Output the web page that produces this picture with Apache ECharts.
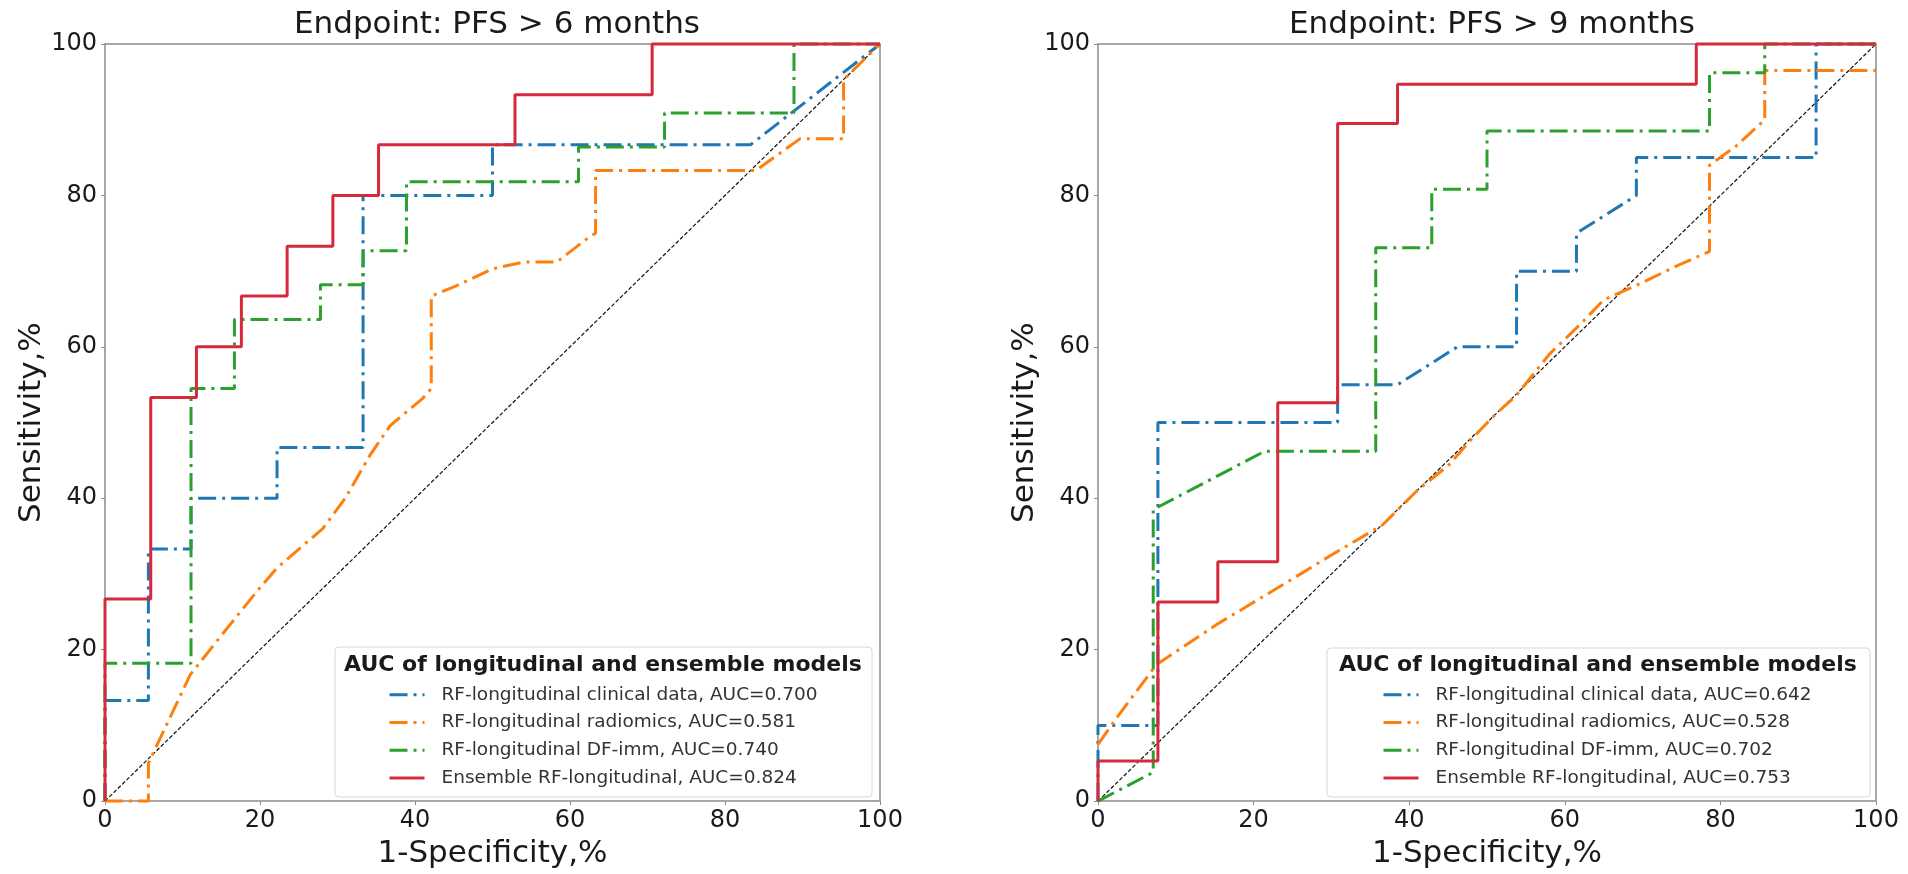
<!DOCTYPE html>
<html>
<head>
<meta charset="utf-8">
<title>ROC curves - longitudinal and ensemble models</title>
<script src="https://cdn.jsdelivr.net/npm/echarts@6/dist/echarts.min.js"></script>
<style>
  html, body { margin: 0; padding: 0; background: #fff; }
  #chart { width: 1908px; height: 874px; }
</style>
</head>
<body>
<div id="chart"></div>
<script>
// panel titles
const panelTitles = ["Endpoint: PFS > 6 months", "Endpoint: PFS > 9 months"];
const legendTitle = "AUC of longitudinal and ensemble models";

// model names, one list per panel (legend order)
const namesPfs6 = [
  "RF-longitudinal clinical data, AUC=0.700",
  "RF-longitudinal radiomics, AUC=0.581",
  "RF-longitudinal DF-imm, AUC=0.740",
  "Ensemble RF-longitudinal, AUC=0.824"
];
const namesPfs9 = [
  "RF-longitudinal clinical data, AUC=0.642",
  "RF-longitudinal radiomics, AUC=0.528",
  "RF-longitudinal DF-imm, AUC=0.702",
  "Ensemble RF-longitudinal, AUC=0.753"
];

// ROC points [1-specificity %, sensitivity %]
const pfs6Clinical = [[0,0],[0,13.3],[5.6,13.3],[5.6,33.3],[11.1,33.3],[11.1,40],[22.2,40],[22.2,46.7],
  [33.3,46.7],[33.3,80],[50,80],[50,86.7],[83.3,86.7],[100,100]];
const pfs6Radiomics = [[0,0],[5.6,0],[5.6,5],[11,16.7],[15.5,22.5],[19.6,27.7],[22.2,30.8],[28.1,36],
  [31,40],[34.2,45.7],[36.8,49.6],[41,53.2],[42.1,54.5],[42.1,66.7],[45.4,68.1],[50,70.3],[54,71.2],
  [58.3,71.2],[62.6,74.6],[63.3,75],[63.3,83.3],[84,83.3],[89.7,87.5],[95.3,87.5],[95.3,95.3],[100,100]];
const pfs6Dfimm = [[0,0],[0,18.2],[11.1,18.2],[11.1,54.5],[16.7,54.5],[16.7,63.6],[27.8,63.6],[27.8,68.2],
  [33.3,68.2],[33.3,72.7],[38.9,72.7],[38.9,81.8],[61.1,81.8],[61.1,86.4],[72.2,86.4],[72.2,90.9],
  [88.9,90.9],[88.9,100],[100,100]];
const pfs6Ensemble = [[0,0],[0,26.7],[5.9,26.7],[5.9,53.3],[11.8,53.3],[11.8,60],[17.6,60],[17.6,66.7],
  [23.5,66.7],[23.5,73.3],[29.4,73.3],[29.4,80],[35.3,80],[35.3,86.7],[52.9,86.7],[52.9,93.3],
  [70.6,93.3],[70.6,100],[100,100]];

const pfs9Clinical = [[0,0],[0,10],[7.7,10],[7.7,50],[30.8,50],[30.8,55],[38.5,55],[46.2,60],[53.8,60],
  [53.8,70],[61.5,70],[61.5,75],[69.2,80],[69.2,85],[92.3,85],[92.3,100],[100,100]];
const pfs9Radiomics = [[0,7.5],[2.4,11],[7.5,18],[15.2,23.3],[23.8,28.6],[30,32.5],[36.6,36.5],[41,41],
  [45.1,44.4],[48,47.8],[51,51],[53.7,53.5],[58,59],[62,63],[65,66.2],[70,68.5],[74,70.5],[78.6,72.6],
  [78.6,84],[82,86.5],[85.7,90],[85.7,96.5],[100,96.5]];
const pfs9Dfimm = [[0,0],[7.1,3.8],[7.1,38.5],[21.4,46.2],[35.7,46.2],[35.7,73.1],[42.9,73.1],[42.9,80.8],
  [50,80.8],[50,88.5],[78.6,88.5],[78.6,96.2],[85.7,96.2],[85.7,100],[100,100]];
const pfs9Ensemble = [[0,0],[0,5.3],[7.7,5.3],[7.7,26.3],[15.4,26.3],[15.4,31.6],[23.1,31.6],[23.1,52.6],
  [30.8,52.6],[30.8,89.5],[38.5,89.5],[38.5,94.7],[76.9,94.7],[76.9,100],[100,100]];

const chanceLine = [[0,0],[100,100]];
const axisTicks = [0, 20, 40, 60, 80, 100];

const colors = ["#1f77b4", "#ff7f0e", "#2ca02c", "#d62a3c"];
const FONT = "DejaVu Sans";
const TEXT = "#1a1a1a";
const dashDot = [18, 6, 3, 6];

const grids = [
  { left: 105, top: 44, width: 775, height: 760 },
  { left: 1098, top: 44, width: 778, height: 760 }
];

const panels = [
  { names: namesPfs6, curves: [pfs6Clinical, pfs6Radiomics, pfs6Dfimm, pfs6Ensemble] },
  { names: namesPfs9, curves: [pfs9Clinical, pfs9Radiomics, pfs9Dfimm, pfs9Ensemble] }
];

const series = [];
panels.forEach((p, gi) => {
  // dashed diagonal (random classifier)
  series.push({
    name: "chance" + gi,
    type: "line",
    xAxisIndex: gi, yAxisIndex: gi,
    data: chanceLine,
    symbol: "none", silent: true, clip: false,
    lineStyle: { color: "#111", width: 1.2, type: [4, 2] },
    z: 1
  });
  p.curves.forEach((c, i) => {
    series.push({
      name: p.names[i],
      type: "line",
      xAxisIndex: gi, yAxisIndex: gi,
      data: c,
      symbol: "none",
      clip: false,
      lineStyle: { color: colors[i], width: 3, type: i === 3 ? "solid" : dashDot },
      itemStyle: { color: colors[i] },
      z: i === 3 ? 5 : 3
    });
  });
});

const chart = echarts.init(document.getElementById("chart"));

const legendTitleStyle = { fontFamily: FONT, fontSize: 22, fontWeight: "bold", color: TEXT };

chart.setOption({
  animation: false,
  backgroundColor: "#fff",
  title: [
    { text: panelTitles[0], left: 492, top: 4, textAlign: "center",
      textStyle: { fontFamily: FONT, fontSize: 31, fontWeight: "normal", color: TEXT } },
    { text: panelTitles[1], left: 1487, top: 4, textAlign: "center",
      textStyle: { fontFamily: FONT, fontSize: 31, fontWeight: "normal", color: TEXT } },
    { text: legendTitle, left: 603, top: 654, textAlign: "center", padding: 0, z: 30,
      textStyle: legendTitleStyle },
    { text: legendTitle, left: 1598, top: 654, textAlign: "center", padding: 0, z: 30,
      textStyle: legendTitleStyle }
  ],
  graphic: [
    { type: "rect", z: 3, shape: { x: 335, y: 647, width: 537, height: 150, r: 4 },
      style: { fill: "rgba(255,255,255,0.85)", stroke: "#d8d8d8", lineWidth: 1 } },
    { type: "rect", z: 3, shape: { x: 1327, y: 648, width: 543, height: 149, r: 4 },
      style: { fill: "rgba(255,255,255,0.85)", stroke: "#d8d8d8", lineWidth: 1 } }
  ],
  legend: panels.map((p, gi) => ({
    data: p.names,
    orient: "vertical",
    left: gi === 0 ? 388 : 1382,
    top: 681,
    padding: 0,
    itemGap: 0,
    itemWidth: 35,
    itemHeight: 14,
    z: 30,
    itemStyle: { opacity: 0 },
    lineStyle: { width: 3 },
    textStyle: { fontFamily: FONT, fontSize: 18.5, color: "#333", lineHeight: 27.7, padding: [0, 0, 0, 12] }
  })),
  grid: grids.map(g => Object.assign({ show: true, borderColor: "#8c8c8c", borderWidth: 1.5 }, g)),
  xAxis: grids.map((g, gi) => ({
    gridIndex: gi,
    type: "value",
    min: axisTicks[0], max: axisTicks[axisTicks.length - 1], interval: 20,
    name: "1-Specificity,%",
    nameLocation: "middle",
    nameGap: 30,
    nameTextStyle: { fontFamily: FONT, fontSize: 31, color: TEXT },
    axisLine: { show: false },
    axisTick: { show: true, length: 4, lineStyle: { color: "#8c8c8c" } },
    axisLabel: { fontFamily: FONT, fontSize: 24, color: TEXT, margin: 8 },
    splitLine: { show: false }
  })),
  yAxis: grids.map((g, gi) => ({
    gridIndex: gi,
    type: "value",
    min: axisTicks[0], max: axisTicks[axisTicks.length - 1], interval: 20,
    name: "Sensitivity,%",
    nameLocation: "middle",
    nameGap: 56,
    nameTextStyle: { fontFamily: FONT, fontSize: 31, color: TEXT },
    axisLine: { show: false },
    axisTick: { show: true, length: 4, lineStyle: { color: "#8c8c8c" } },
    axisLabel: { fontFamily: FONT, fontSize: 24, color: TEXT, margin: 8 },
    splitLine: { show: false }
  })),
  series: series
});
</script>
</body>
</html>
